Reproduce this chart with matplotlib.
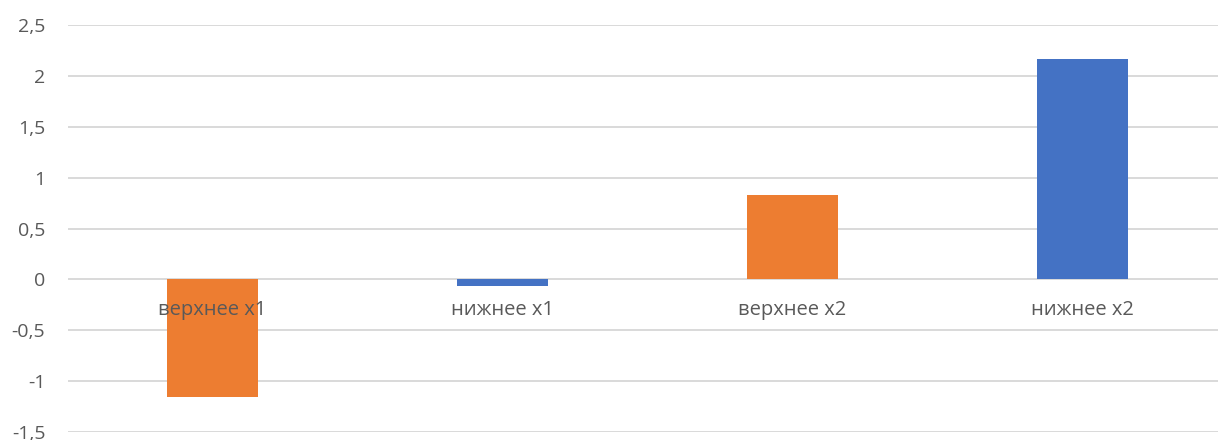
import numpy as np
import matplotlib
matplotlib.use("Agg")
import matplotlib.pyplot as plt

categories = ["верхнее x1", "нижнее x1", "верхнее x2", "нижнее x2"]
values = [-1.16, -0.07, 0.83, 2.17]
colors = ["#ED7D31", "#4472C4", "#ED7D31", "#4472C4"]
yticks = [-1.5, -1, -0.5, 0, 0.5, 1, 1.5, 2, 2.5]

plt.rcParams['font.family'] = ['Open Sans', 'DejaVu Sans']

fig = plt.figure(figsize=(12.18, 4.40), dpi=100)
# plot area runs a little past the right edge, like the source sheet
ax = fig.add_axes([67.5/1218, 8/440, 1160/1218, 407/440])

x = np.arange(len(categories))
ax.bar(x, values, width=0.315, color=colors, zorder=3)

ax.set_xlim(-0.5, len(categories) - 0.5)
ax.set_ylim(-1.5, 2.5)
ax.set_yticks(yticks)
ax.set_yticklabels([("%g" % v).replace(".", ",") for v in yticks],
                   fontsize=14, color="#595959")
ax.tick_params(axis='y', length=0, pad=16)
ax.set_xticks([])
ax.grid(axis='y', color="#D9D9D9", linewidth=1.4, zorder=0)
for s in ax.spines.values():
    s.set_visible(False)

# category labels sit just under the zero line
for xi, name in zip(x, categories):
    ax.text(xi, -0.3, name, ha='center', va='center', fontsize=14.5,
            color="#595959", zorder=4)

fig.savefig("out.png", dpi=100)
